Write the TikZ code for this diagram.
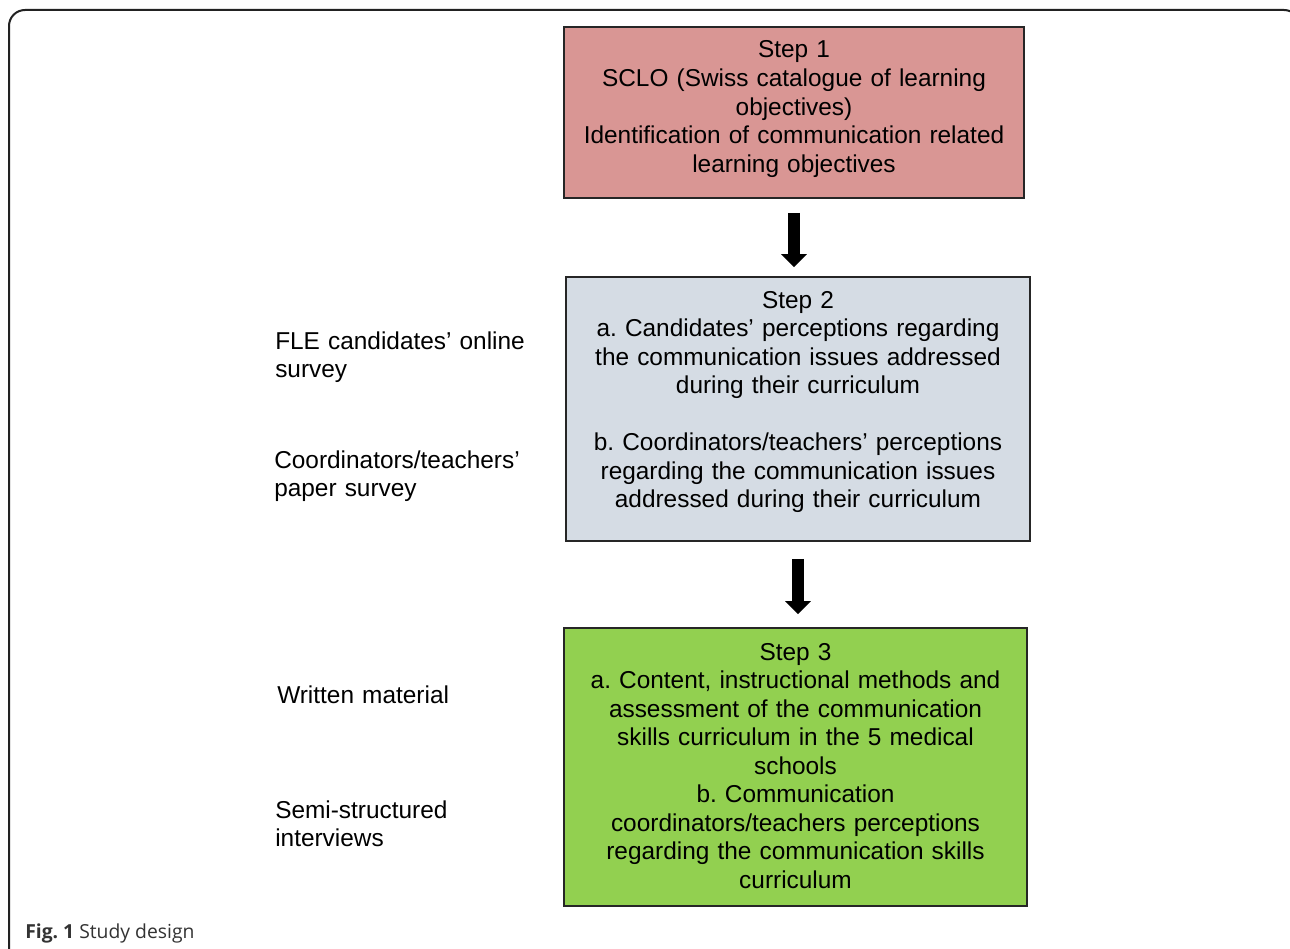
\documentclass[tikz,border=0pt]{standalone}
\usepackage{fontspec}
\setmainfont{Liberation Sans}
\newfontfamily\capfont{Open Sans}
\usetikzlibrary{arrows.meta,fit}
\definecolor{stepone}{HTML}{D99694}
\definecolor{steptwo}{HTML}{D5DCE4}
\definecolor{stepthree}{HTML}{92D050}
\definecolor{framegray}{HTML}{222222}
\definecolor{capgray}{HTML}{333333}
\frenchspacing
\tikzset{
  stepbox/.style={draw=black!85, line width=1.3pt, inner sep=0pt},
  steptext/.style={text width=345pt, align=center, inner sep=0pt, anchor=base,
    font=\fontsize{18.3pt}{21.4pt}\selectfont},
  sidetext/.style={text width=250pt, align=left, inner sep=0pt, anchor=base west,
    font=\fontsize{18.3pt}{21.4pt}\selectfont},
  bigarrow/.style={line width=9.5pt, -{Triangle[width=18.75pt,length=9.75pt]}},
}
\begin{document}
\begin{tikzpicture}[x=0.75pt,y=-0.75pt]
\useasboundingbox (0,0) rectangle (1290,949);
\clip (0,0) rectangle (1290,949);
\fill[white] (0,0) rectangle (1290,949);
% outer frame
\draw[framegray, line width=1.5pt, rounded corners=12pt] (9,975) -- (9,10) -- (1300,10) -- (1300,60);
% boxes
\node[stepbox, fill=stepone, fit={(564,27) (1024,198)}] (s1) {};
\node[stepbox, fill=steptwo, fit={(566,277) (1030,541)}] (s2) {};
\node[stepbox, fill=stepthree, fit={(564,628) (1027,906)}] (s3) {};
% box texts
\node[steptext] (t1) at (794,58) {Step 1\\SCLO (Swiss catalogue of learning\\objectives)\\Identification of communication related\\learning objectives};
\node[steptext] (t2) at (798,308) {Step 2\\a. Candidates’ perceptions regarding\\the communication issues addressed\\during their curriculum\\[21.4pt]b. Coordinators/teachers’ perceptions\\regarding the communication issues\\addressed during their curriculum};
\node[steptext] (t3) at (795.5,660) {Step 3\\a. Content, instructional methods and\\assessment of the communication\\skills curriculum in the 5 medical\\schools\\b. Communication\\coordinators/teachers perceptions\\regarding the communication skills\\curriculum};
% side texts
\node[sidetext] (l1) at (275,349) {FLE candidates’ online\\survey};
\node[sidetext] (l2) at (274,468) {Coordinators/teachers’\\paper survey};
\node[sidetext] (l3) at (277,703) {Written material};
\node[sidetext] (l4) at (275,818) {Semi-structured\\interviews};
% arrows
\draw[bigarrow, shorten <=10.5pt, shorten >=6.75pt] (s1.south) -- (s1.south |- s2.north);
\draw[bigarrow, shorten <=12.75pt, shorten >=9.75pt] (s2.south) -- (s2.south |- s3.north);
% caption
\node[anchor=base west, inner sep=0pt, text=capgray, font=\capfont\fontsize{14.5pt}{16pt}\selectfont] (cap) at (25,938) {\textbf{Fig. 1} Study design};
\end{tikzpicture}
\end{document}
